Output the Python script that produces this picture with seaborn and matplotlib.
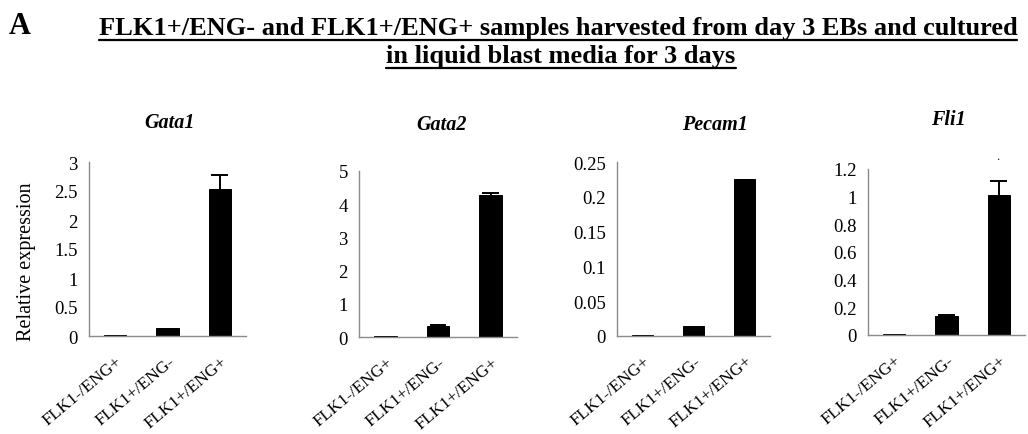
import matplotlib
matplotlib.use('Agg')
import matplotlib.pyplot as plt
from matplotlib.lines import Line2D
from matplotlib.ticker import FuncFormatter
import seaborn as sns
import pandas as pd

# --- DADOS ---
samples = ["FLK1-/ENG+", "FLK1+/ENG-", "FLK1+/ENG+"]
genes = ["Gata1", "Gata2", "Pecam1", "Fli1"]

gata1 = [0.01, 0.13, 2.53]
gata1_err = [0.0, 0.0, 0.24]
gata2 = [0.05, 0.35, 4.28]
gata2_err = [0.0, 0.02, 0.05]
pecam1 = [0.001, 0.0135, 0.226]
pecam1_err = [0.0, 0.0, 0.0]
fli1 = [0.005, 0.14, 1.01]
fli1_err = [0.0, 0.005, 0.10]

y_max = [3, 5, 0.25, 1.2]
y_step = [0.5, 1, 0.05, 0.2]

title_1 = "FLK1+/ENG- and FLK1+/ENG+ samples harvested from day 3 EBs and cultured"
title_2 = "in liquid blast media for 3 days"

W, H = 1028, 435
# posições dos eixos em pixels: esquerda, direita, topo, base
axes_px = [(89, 246, 163, 337), (359, 517, 171.7, 338.3),
           (617, 770, 163.3, 336.7), (868, 1025, 170, 336)]
gene_title_px = [(170, 123), (442, 125), (715, 125), (948, 120)]

GRAY = "#8a8a8a"
CAP = 0.16  # meia largura do traço da barra de erro (unidades de categoria)


def fx(px):
    return px / W


def fy(px):
    return 1 - px / H


def draw_panel(fig, idx, values, errors):
    left, right, top, bottom = axes_px[idx]
    ax = fig.add_axes([fx(left), fy(bottom), (right - left) / W, (bottom - top) / H])
    df = pd.DataFrame({"sample": samples, "value": values})
    sns.barplot(data=df, x="sample", y="value", color="black", width=0.43,
                errorbar=None, saturation=1, edgecolor="black", linewidth=0.7,
                ax=ax, zorder=2)

    # barras de erro só para cima, como no Excel
    for i, (v, e) in enumerate(zip(values, errors)):
        if e <= 0:
            continue
        ax.vlines(i, v, v + e, color="black", linewidth=1.4, zorder=3)
        ax.hlines(v + e, i - CAP, i + CAP, color="black", linewidth=1.4, zorder=3)

    ax.set_xlim(-0.5, 2.5)
    ax.set_ylim(0, y_max[idx])
    n = int(round(y_max[idx] / y_step[idx]))
    ax.set_yticks([i * y_step[idx] for i in range(n + 1)])
    ax.yaxis.set_major_formatter(FuncFormatter(lambda v, _: f"{v:g}"))

    for s in ["top", "right"]:
        ax.spines[s].set_visible(False)
    for s in ["left", "bottom"]:
        ax.spines[s].set_color(GRAY)
        ax.spines[s].set_linewidth(1.0)

    ax.set_xlabel("")
    ax.set_ylabel("")
    ax.set_xticks([-0.5, 0.5, 1.5, 2.5], minor=True)
    ax.tick_params(axis="x", which="major", length=0, pad=12, labelcolor="black")
    ax.tick_params(axis="x", which="minor", direction="inout", length=8, color=GRAY)
    ax.tick_params(axis="y", direction="out", length=4, color=GRAY, labelsize=13.5,
                   pad=4, labelcolor="black")
    ax.set_xticks(range(len(samples)))
    ax.set_xticklabels(samples, rotation=40, ha="right", rotation_mode="anchor", fontsize=12.5)

    gx, gy = gene_title_px[idx]
    fig.text(fx(gx), fy(gy), genes[idx], ha="center", va="center", color="black",
             fontsize=14.5, fontweight="bold", fontstyle="italic")
    return ax


def underline(fig, txt, y_px):
    renderer = fig.canvas.get_renderer()
    bb = txt.get_window_extent(renderer=renderer)
    fig.add_artist(Line2D([bb.x0 / fig.bbox.width, bb.x1 / fig.bbox.width], [fy(y_px), fy(y_px)],
                          color="black", linewidth=1.6))


def main():
    sns.set_theme(style="white")
    plt.rcParams["font.family"] = ["Liberation Serif", "DejaVu Serif"]

    fig = plt.figure(figsize=(W / 100, H / 100), dpi=100)
    fig.patch.set_facecolor("white")

    all_values = [gata1, gata2, pecam1, fli1]
    all_errors = [gata1_err, gata2_err, pecam1_err, fli1_err]
    axes = []
    for i in range(4):
        axes.append(draw_panel(fig, i, all_values[i], all_errors[i]))

    axes[0].set_ylabel("Relative expression", fontsize=14.5, color="black")
    axes[0].yaxis.set_label_coords(-0.34, 0.433)

    # pequeno ponto acima da barra de Fli1 (como no original)
    fig.text(fx(998), fy(157), ".", ha="center", va="center", fontsize=9)

    fig.text(fx(20), fy(34), "A", ha="center", va="baseline", fontsize=22,
             fontweight="bold", color="black")
    t1 = fig.text(fx(558), fy(35), title_1, ha="center", va="baseline", fontsize=19,
                  fontweight="bold", color="black")
    t2 = fig.text(fx(561), fy(63), title_2, ha="center", va="baseline", fontsize=19,
                  fontweight="bold", color="black")
    fig.canvas.draw()
    underline(fig, t1, 40.5)
    underline(fig, t2, 68.5)

    fig.savefig("out.png", dpi=100)


if __name__ == "__main__":
    main()
